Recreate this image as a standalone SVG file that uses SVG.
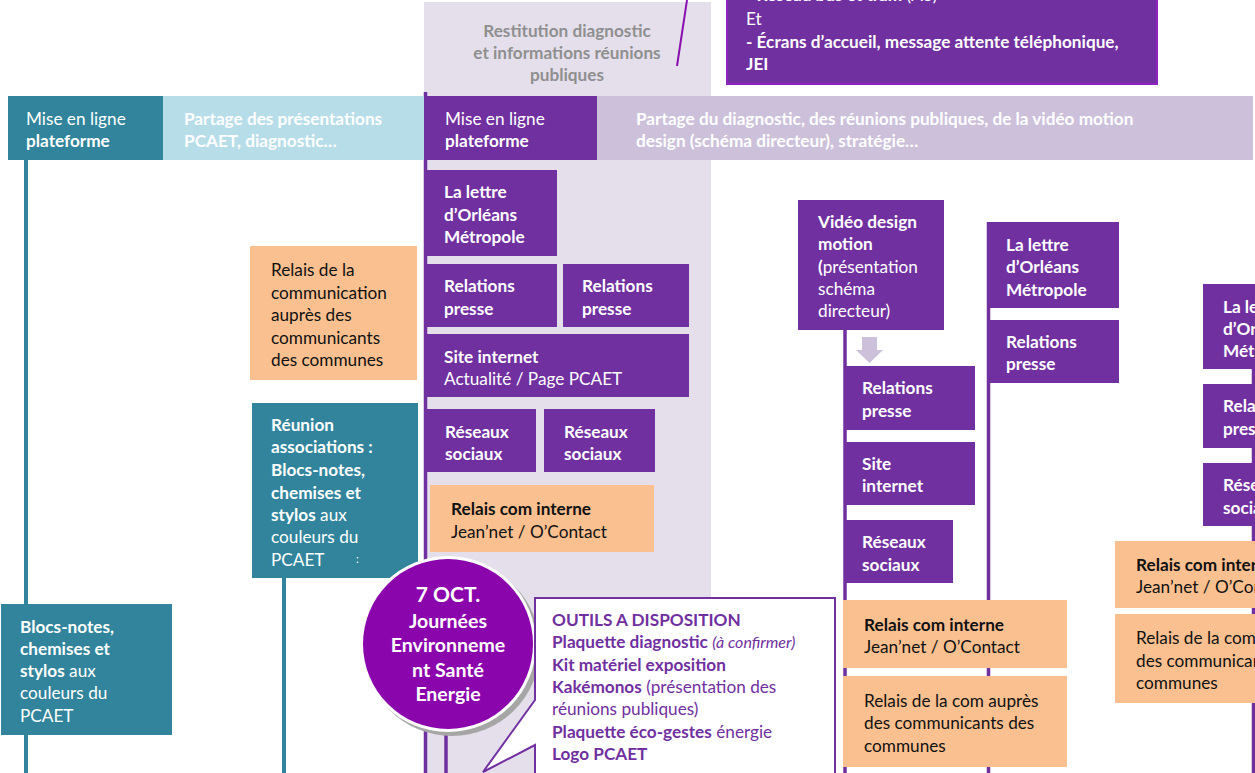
<svg xmlns="http://www.w3.org/2000/svg" width="1255" height="773" viewBox="0 0 1255 773">
<style>
text{font-family:Lato,"Open Sans","Liberation Sans",sans-serif;font-size:17.2px}
.w{fill:#ffffff}
.k{fill:#111111}
.p{fill:#7030a0}
.g{fill:#8f8f8f}
.b{font-weight:bold}
.i{font-style:italic;font-size:16px}
.pu{fill:#7030a0}
.te{fill:#31849b}
.lb{fill:#b7dde8}
.or{fill:#fac090}
.lav{fill:#e5dfec}
.band{fill:#ccc0da}
.ln{stroke:#7030a0;stroke-width:3.5;fill:none}
.lt{stroke:#31849b;stroke-width:4;fill:none}
.c{font-size:19.5px}
</style>
<rect width="1255" height="773" fill="#ffffff"/>

<g id="restitution">
<rect class="lav" x="424" y="2" width="287" height="771"/>
<text class="g b" text-anchor="middle"><tspan x="567" y="37">Restitution diagnostic</tspan><tspan x="567" y="59">et informations réunions</tspan><tspan x="567" y="81">publiques</tspan></text>
</g>

<g id="connectors">
<line x1="677" y1="66" x2="687" y2="0" stroke="#8b10b0" stroke-width="2"/>
<line class="lt" x1="26" y1="160" x2="26" y2="773"/>
<line class="lt" x1="284" y1="578" x2="284" y2="773"/>
<line class="ln" x1="425.5" y1="92" x2="425.5" y2="773"/>
<line class="ln" x1="446" y1="730" x2="446" y2="773"/>
<line class="ln" x1="845" y1="330" x2="845" y2="773"/>
<line class="ln" x1="988.5" y1="222" x2="988.5" y2="773"/>
<line class="ln" x1="1253.5" y1="369" x2="1253.5" y2="773"/>
<polygon points="862,337 877,337 877,350 883,350 869.5,363 856,350 862,350" fill="#ccc0da"/>
</g>

<g id="ecrans">
<rect x="727" y="-10" width="430" height="94" fill="#7030a0" stroke="#8e24c0" stroke-width="2"/>
<text class="w"><tspan x="746" y="1"><tspan class="b">- Réseau bus et tram</tspan> (A3)</tspan><tspan x="746" y="25">Et</tspan><tspan x="746" y="48" class="b">- Écrans d’accueil, message attente téléphonique,</tspan><tspan x="746" y="70" class="b">JEI</tspan></text>
</g>

<g id="plateforme1">
<rect class="lb" x="163" y="96" width="261" height="64"/>
<rect class="te" x="8" y="96" width="155" height="64"/>
<text class="w"><tspan x="26" y="125">Mise en ligne</tspan><tspan x="26" y="147" class="b">plateforme</tspan></text>
<text class="w b"><tspan x="184" y="125">Partage des présentations</tspan><tspan x="184" y="147">PCAET, diagnostic…</tspan></text>
</g>

<g id="plateforme2">
<rect class="band" x="597" y="96" width="656" height="64"/>
<rect class="pu" x="424" y="96" width="173" height="64"/>
<text class="w"><tspan x="445" y="125">Mise en ligne</tspan><tspan x="445" y="147" class="b">plateforme</tspan></text>
<text class="w b"><tspan x="636" y="125">Partage du diagnostic, des réunions publiques, de la vidéo motion</tspan><tspan x="636" y="147">design (schéma directeur), stratégie…</tspan></text>
</g>

<g id="relais-communes-1">
<rect class="or" x="250" y="246" width="167" height="134"/>
<text class="k"><tspan x="271" y="276">Relais de la</tspan><tspan x="271" y="299">communication</tspan><tspan x="271" y="321">auprès des</tspan><tspan x="271" y="344">communicants</tspan><tspan x="271" y="366">des communes</tspan></text>
</g>

<g id="reunion-associations">
<rect class="te" x="252" y="403" width="166" height="175"/>
<text class="w"><tspan x="271" y="431" class="b">Réunion</tspan><tspan x="271" y="453" class="b">associations :</tspan><tspan x="271" y="476" class="b">Blocs-notes,</tspan><tspan x="271" y="499" class="b">chemises et</tspan><tspan x="271" y="521"><tspan class="b">stylos</tspan> aux</tspan><tspan x="271" y="543">couleurs du</tspan><tspan x="271" y="566">PCAET</tspan></text>
<text x="356" y="563" class="w" style="font-size:11px">:</text>
</g>

<g id="blocs-notes">
<rect class="te" x="1" y="604" width="171" height="131"/>
<text class="w"><tspan x="20" y="633" class="b">Blocs-notes,</tspan><tspan x="20" y="655" class="b">chemises et</tspan><tspan x="20" y="677"><tspan class="b">stylos</tspan> aux</tspan><tspan x="20" y="699">couleurs du</tspan><tspan x="20" y="722">PCAET</tspan></text>
</g>

<g id="lettre-1">
<rect class="pu" x="427" y="170" width="130" height="86"/>
<text class="w b"><tspan x="444" y="198">La lettre</tspan><tspan x="444" y="221">d’Orléans</tspan><tspan x="444" y="243">Métropole</tspan></text>
</g>
<g id="presse-1a">
<rect class="pu" x="427" y="264" width="130" height="63"/>
<text class="w b"><tspan x="444" y="292">Relations</tspan><tspan x="444" y="315">presse</tspan></text>
</g>
<g id="presse-1b">
<rect class="pu" x="563" y="264" width="126" height="63"/>
<text class="w b"><tspan x="582" y="292">Relations</tspan><tspan x="582" y="315">presse</tspan></text>
</g>
<g id="site-1">
<rect class="pu" x="427" y="334" width="262" height="63"/>
<text class="w"><tspan x="444" y="363" class="b">Site internet</tspan><tspan x="444" y="385">Actualité / Page PCAET</tspan></text>
</g>
<g id="reseaux-1a">
<rect class="pu" x="427" y="409" width="109" height="63"/>
<text class="w b"><tspan x="445" y="438">Réseaux</tspan><tspan x="445" y="460">sociaux</tspan></text>
</g>
<g id="reseaux-1b">
<rect class="pu" x="544" y="409" width="111" height="63"/>
<text class="w b"><tspan x="564" y="438">Réseaux</tspan><tspan x="564" y="460">sociaux</tspan></text>
</g>
<g id="relais-interne-1">
<rect class="or" x="430" y="485" width="224" height="67"/>
<text class="k"><tspan x="451" y="515" class="b">Relais com interne</tspan><tspan x="451" y="538">Jean’net / O’Contact</tspan></text>
</g>

<g id="journees">
<circle cx="452" cy="648" r="88" fill="#a6a6a6"/>
<circle cx="448" cy="644" r="88" fill="#ffffff"/>
<circle cx="448" cy="644" r="85" fill="#8b05ad"/>
<text class="w b" text-anchor="middle"><tspan x="448" y="602" style="font-size:21px">7 OCT.</tspan><tspan x="448" y="628" class="c">Journées</tspan><tspan x="448" y="652" class="c">Environneme</tspan><tspan x="448" y="677" class="c">nt Santé</tspan><tspan x="448" y="701" class="c">Energie</tspan></text>
</g>

<g id="outils">
<path d="M535,700 L535,598 L835,598 L835,780 L535,780 L535,745 L483,772 Z" fill="#ffffff" stroke="#7030a0" stroke-width="2"/>
<text class="p"><tspan x="552" y="626" class="b">OUTILS A DISPOSITION</tspan><tspan x="552" y="648"><tspan class="b">Plaquette diagnostic</tspan> <tspan class="i">(à confirmer)</tspan></tspan><tspan x="552" y="671" class="b">Kit matériel exposition</tspan><tspan x="552" y="693"><tspan class="b">Kakémonos</tspan> (présentation des</tspan><tspan x="552" y="715">réunions publiques)</tspan><tspan x="552" y="738"><tspan class="b">Plaquette éco-gestes</tspan> énergie</tspan><tspan x="552" y="760" class="b">Logo PCAET</tspan></text>
</g>

<g id="video">
<rect class="pu" x="798" y="200" width="146" height="130"/>
<text class="w"><tspan x="818" y="228" class="b">Vidéo design</tspan><tspan x="818" y="250" class="b">motion</tspan><tspan x="818" y="273"><tspan class="b">(</tspan>présentation</tspan><tspan x="818" y="295">schéma</tspan><tspan x="818" y="317">directeur)</tspan></text>
</g>
<g id="presse-2">
<rect class="pu" x="844" y="366" width="131" height="64"/>
<text class="w b"><tspan x="862" y="394">Relations</tspan><tspan x="862" y="417">presse</tspan></text>
</g>
<g id="site-2">
<rect class="pu" x="844" y="442" width="131" height="63"/>
<text class="w b"><tspan x="862" y="470">Site</tspan><tspan x="862" y="492">internet</tspan></text>
</g>
<g id="reseaux-2">
<rect class="pu" x="844" y="520" width="109" height="63"/>
<text class="w b"><tspan x="862" y="548">Réseaux</tspan><tspan x="862" y="571">sociaux</tspan></text>
</g>
<g id="relais-interne-2">
<rect class="or" x="843" y="600" width="224" height="68"/>
<text class="k"><tspan x="864" y="631" class="b">Relais com interne</tspan><tspan x="864" y="653">Jean’net / O’Contact</tspan></text>
</g>
<g id="relais-communes-2">
<rect class="or" x="843" y="676" width="224" height="91"/>
<text class="k"><tspan x="864" y="707">Relais de la com auprès</tspan><tspan x="864" y="729">des communicants des</tspan><tspan x="864" y="752">communes</tspan></text>
</g>

<g id="lettre-3">
<rect class="pu" x="987" y="222" width="132" height="86"/>
<text class="w b"><tspan x="1006" y="251">La lettre</tspan><tspan x="1006" y="273">d’Orléans</tspan><tspan x="1006" y="296">Métropole</tspan></text>
</g>
<g id="presse-3">
<rect class="pu" x="987" y="320" width="132" height="63"/>
<text class="w b"><tspan x="1006" y="348">Relations</tspan><tspan x="1006" y="370">presse</tspan></text>
</g>

<g id="lettre-4">
<rect class="pu" x="1203" y="284" width="60" height="85"/>
<text class="w b"><tspan x="1223" y="313">La lettre</tspan><tspan x="1223" y="335">d’Orléans</tspan><tspan x="1223" y="357">Métropole</tspan></text>
</g>
<g id="presse-4">
<rect class="pu" x="1203" y="384" width="60" height="64"/>
<text class="w b"><tspan x="1223" y="412">Relations</tspan><tspan x="1223" y="435">presse</tspan></text>
</g>
<g id="reseaux-4">
<rect class="pu" x="1203" y="463" width="60" height="63"/>
<text class="w b"><tspan x="1223" y="491">Réseaux</tspan><tspan x="1223" y="514">sociaux</tspan></text>
</g>
<g id="relais-interne-4">
<rect class="or" x="1115" y="541" width="150" height="67"/>
<text class="k"><tspan x="1136" y="571" class="b">Relais com interne</tspan><tspan x="1136" y="593">Jean’net / O’Contact</tspan></text>
</g>
<g id="relais-communes-4">
<rect class="or" x="1115" y="614" width="150" height="89"/>
<text class="k"><tspan x="1136" y="644">Relais de la com auprès</tspan><tspan x="1136" y="667">des communicants des</tspan><tspan x="1136" y="689">communes</tspan></text>
</g>
</svg>
